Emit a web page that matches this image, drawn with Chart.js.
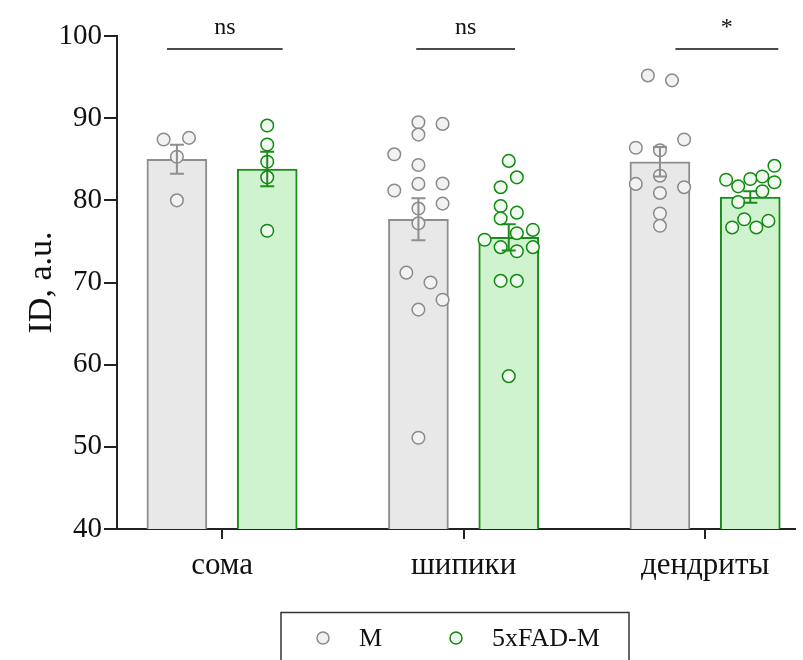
<!DOCTYPE html>
<html><head><meta charset="utf-8">
<script src="https://cdn.jsdelivr.net/npm/chart.js@4.4.1/dist/chart.umd.min.js"></script>
<style>html,body{margin:0;padding:0;background:#fff}#wrap{width:803px;height:660px}</style>
</head><body><div id="wrap"><canvas id="c" width="803" height="660"></canvas></div>
<script>
// ---- data ----
const categories = ['сома', 'шипики', 'дендриты'];
const seriesNames = ['M', '5xFAD-M'];
const yTicks = [40, 50, 60, 70, 80, 90, 100];

const meanM  = [85.0, 77.7, 84.7];
const semM   = [1.75, 2.55, 1.8];
const mean5x = [83.8, 75.5, 80.4];
const sem5x  = [2.1, 1.6, 0.7];

const somaM      = [87.4, 87.6, 85.3, 80.0];
const somaMSlot  = [-1.1, 1, 0, 0];
const spinesM     = [89.5, 89.3, 88.0, 85.6, 84.3, 81.2, 82.0, 82.05, 79.6, 79.0, 77.2, 71.2, 70.0, 67.9, 66.7, 51.1];
const spinesMSlot = [0, 2, 0, -2, 0, -2, 0, 2, 2, 0, 0, -1, 1, 2, 0, 0];
const dendM      = [95.2, 94.6, 87.4, 86.4, 86.1, 83.0, 82.0, 81.6, 80.9, 78.4, 76.9];
const dendMSlot  = [-1, 1, 2, -2, 0, 0, -2, 2, 0, 0, 0];

const soma5x      = [89.1, 86.8, 84.7, 82.8, 76.3];
const soma5xSlot  = [0, 0, 0, 0, 0];
const spines5x     = [84.8, 82.8, 81.6, 79.3, 78.5, 77.8, 76.4, 76.0, 75.2, 74.3, 74.3, 73.8, 70.2, 70.2, 58.6];
const spines5xSlot = [0, 0.67, -0.67, -0.67, 0.67, -0.67, 2, 0.67, -2, -0.67, 2, 0.67, -0.67, 0.67, 0];
const dend5x      = [84.2, 82.5, 82.9, 82.6, 82.2, 81.7, 81.1, 79.8, 77.7, 77.5, 76.7, 76.7];
const dend5xSlot  = [2, -2, 1, 0, 2, -1, 1, -1, -0.5, 1.5, -1.5, 0.5];

const significance = ['ns', 'ns', '*'];

// ---- layout / style constants ----
const OFF = 0.187;     // bar offset from group centre (axis units)
const SLOT = 0.05;     // jitter slot width (axis units)
const GRAY = {fill: '#e8e8e8', border: '#8e8e8e', pt: '#f2f2f2', ptb: '#8a8a8a'};
const GREEN = {fill: '#cff2cf', border: '#1c8c1c', pt: '#effbef', ptb: '#0e8a0e'};

function pts(groups, slots, off) {
  const out = [];
  groups.forEach((vals, i) => vals.forEach((v, k) => out.push({x: i + off + slots[i][k] * SLOT, y: v})));
  return out;
}
const mPoints = pts([somaM, spinesM, dendM], [somaMSlot, spinesMSlot, dendMSlot], -OFF);
const fPoints = pts([soma5x, spines5x, dend5x], [soma5xSlot, spines5xSlot, dend5xSlot], OFF);

const SERIF = "'Liberation Serif','Times New Roman',serif";

const overlay = {
  id: 'overlay',
  afterDatasetsDraw(chart) {
    const ctx = chart.ctx, xs = chart.scales.x, ys = chart.scales.y;
    const sets = [[meanM, semM, -OFF, GRAY.border], [mean5x, sem5x, OFF, GREEN.border]];
    ctx.save();
    ctx.lineWidth = 2;
    sets.forEach(([mean, sem, off, col]) => {
      mean.forEach((m, i) => {
        const cx = xs.getPixelForValue(i + off);
        const t = ys.getPixelForValue(m + sem[i]);
        const b = ys.getPixelForValue(m - sem[i]);
        ctx.strokeStyle = col;
        ctx.beginPath();
        ctx.moveTo(cx, t); ctx.lineTo(cx, b);
        ctx.moveTo(cx - 7, t); ctx.lineTo(cx + 7, t);
        ctx.moveTo(cx - 7, b); ctx.lineTo(cx + 7, b);
        ctx.stroke();
      });
    });
    ctx.restore();
  },
  afterDraw(chart) {
    const ctx = chart.ctx, xs = chart.scales.x, ca = chart.chartArea;
    const spans = [[-0.228, 0.251], [-0.196, 0.213], [-0.123, 0.303]];
    ctx.save();
    ctx.strokeStyle = '#111'; ctx.lineWidth = 1.6; ctx.fillStyle = '#111';
    ctx.font = '24px ' + SERIF; ctx.textAlign = 'center'; ctx.textBaseline = 'alphabetic';
    significance.forEach((s, i) => {
      const x0 = xs.getPixelForValue(i + spans[i][0]);
      const x1 = xs.getPixelForValue(i + spans[i][1]);
      const ly = ca.top + 13;
      ctx.beginPath(); ctx.moveTo(x0, ly); ctx.lineTo(x1, ly); ctx.stroke();
      ctx.fillText(s, (x0 + x1) / 2, ly - 15);
    });
    // legend box
    ctx.lineWidth = 1.5; ctx.strokeStyle = '#333';
    ctx.strokeRect(281, 612.5, 348, 80);
    const items = [[323, 359, GRAY], [456, 492, GREEN]];
    ctx.font = '26px ' + SERIF; ctx.textAlign = 'left'; ctx.textBaseline = 'middle';
    items.forEach(([cx, tx, c], i) => {
      ctx.beginPath(); ctx.arc(cx, 638, 6, 0, Math.PI * 2);
      ctx.fillStyle = c.pt; ctx.fill();
      ctx.strokeStyle = c.ptb; ctx.lineWidth = 1.5; ctx.stroke();
      ctx.fillStyle = '#111';
      ctx.fillText(seriesNames[i], tx, 639);
    });
    ctx.restore();
  }
};

new Chart(document.getElementById('c'), {
  type: 'bar',
  data: {
    datasets: [
      {type: 'scatter', label: seriesNames[0], data: mPoints, order: 1,
       pointRadius: 6.3, pointBorderWidth: 1.5, backgroundColor: GRAY.pt, borderColor: GRAY.ptb},
      {type: 'scatter', label: seriesNames[1], data: fPoints, order: 1,
       pointRadius: 6.3, pointBorderWidth: 1.5, backgroundColor: GREEN.pt, borderColor: GREEN.ptb},
      {label: seriesNames[0], data: meanM.map((v, i) => ({x: i - OFF, y: v})), order: 2, grouped: false,
       barThickness: 60, backgroundColor: GRAY.fill, borderColor: GRAY.border, borderWidth: 2},
      {label: seriesNames[1], data: mean5x.map((v, i) => ({x: i + OFF, y: v})), order: 2, grouped: false,
       barThickness: 60, backgroundColor: GREEN.fill, borderColor: GREEN.border, borderWidth: 2}
    ]
  },
  options: {
    responsive: false, animation: false,
    layout: {padding: {top: 36, right: 0, left: 0, bottom: 0}},
    plugins: {legend: {display: false}, tooltip: {enabled: false}},
    scales: {
      x: {
        type: 'linear', min: -0.435, max: 2.373, offset: false,
        afterBuildTicks: s => { s.ticks = categories.map((c, i) => ({value: i})); },
        afterFit: s => { s.height = 131; },
        ticks: {callback: v => categories[v], font: {family: SERIF, size: 31}, color: '#111', padding: 8, maxRotation: 0, autoSkip: false},
        grid: {drawOnChartArea: false, offset: false, tickLength: 10, color: '#222', lineWidth: 2},
        border: {color: '#222', width: 2}
      },
      y: {
        min: 40, max: 100,
        afterBuildTicks: s => { s.ticks = yTicks.map(v => ({value: v})); },
        afterFit: s => { s.width = 117; },
        ticks: {font: {family: SERIF, size: 29}, color: '#111', padding: 2},
        grid: {drawOnChartArea: false, tickLength: 13, color: '#222', lineWidth: 2},
        border: {color: '#222', width: 2},
        title: {display: true, text: 'ID, a.u.', font: {family: SERIF, size: 34}, color: '#111', padding: {top: 22, bottom: 0}}
      }
    }
  },
  plugins: [overlay]
});
</script></body></html>
